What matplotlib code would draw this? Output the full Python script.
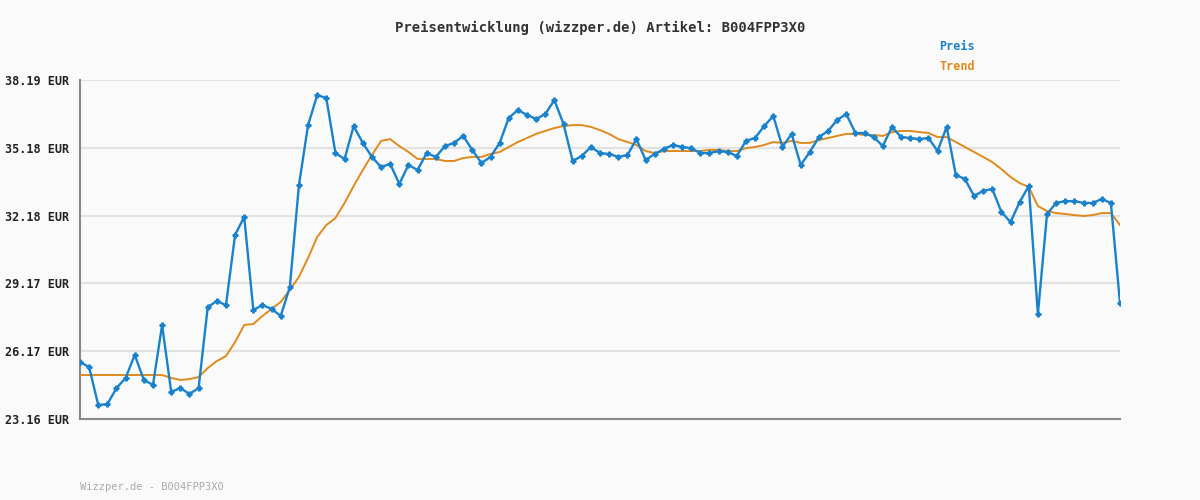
import matplotlib
matplotlib.use("Agg")
import matplotlib.pyplot as plt

preis = [25.69,25.46,23.78,23.82,24.53,24.98,26.00,24.89,24.67,27.33,24.36,24.53,24.27,24.53,28.12,28.39,28.21,31.32,32.12,27.99,
         28.21,28.04,27.73,29.01,33.53,36.19,37.52,37.39,34.95,34.69,36.15,35.40,34.78,34.33,34.47,33.58,34.42,34.20,34.95,34.78,
         35.26,35.40,35.71,35.09,34.51,34.78,35.40,36.51,36.86,36.64,36.46,36.68,37.30,36.24,34.60,34.82,35.22,34.95,34.91,34.78,
         34.86,35.57,34.64,34.91,35.13,35.31,35.22,35.17,34.95,34.95,35.04,35.00,34.82,35.49,35.62,36.15,36.59,
         35.22,35.80,34.42,35.00,35.66,35.93,36.42,36.68,35.84,35.84,35.66,35.26,36.11,35.66,35.62,35.57,35.62,35.04,36.11,33.98,
         33.80,33.05,33.27,33.36,32.34,31.89,32.78,33.49,27.81,32.25,32.74,32.82,32.82,32.74,32.74,32.91,32.74,28.30]
trend = [25.11]*10 + [24.98,24.89,24.93,25.02,25.42,25.73,25.95,26.57,27.33,27.37,27.73,28.04,28.35,28.88,29.46,30.30,31.23,31.76,32.07,32.74,
         33.49,34.20,34.86,35.49,35.57,35.26,35.00,34.69,34.69,34.69,
         34.60,34.60,34.73,34.78,34.78,34.91,35.00,35.22,35.44,35.62,35.80,35.93,36.06,36.15,36.19,36.19,36.11,35.97,35.80,35.57,
         35.44,35.31,35.04,34.95,35.04,35.04,35.04,35.04,35.04,35.09,35.09,35.04,35.04,35.17,35.22,35.31,35.44,
         35.40,35.49,35.40,35.40,35.53,35.62,35.71,35.80,35.80,35.75,35.75,35.71,35.88,35.93,35.93,35.88,35.84,35.66,35.66,35.44,
         35.22,35.00,34.78,34.55,34.24,33.89,33.62,33.45,32.60,32.38,32.29,32.25,32.20,32.16,32.20,32.29,32.29,31.76]
yticks = [23.16, 26.17, 29.17, 32.18, 35.18, 38.19]
ylabels = ["23.16 EUR", "26.17 EUR", "29.17 EUR", "32.18 EUR", "35.18 EUR", "38.19 EUR"]

BLUE = "#1a82cc"; ORANGE = "#e08a1e"; BG = "#fafafa"
mono = "DejaVu Sans Mono"

fig = plt.figure(figsize=(12, 5), dpi=100, facecolor=BG)
ax = fig.add_axes([80/1200, 1-419/500, 1040/1200, 339/500], facecolor=BG)
x = list(range(len(preis)))
ax.plot(x, trend, color=ORANGE, lw=1.4, zorder=3)
ax.plot(x, preis, color=BLUE, lw=1.7, marker="P", ms=3.5, zorder=4)
ax.set_xlim(0, len(preis)-1)
ax.set_ylim(23.16, 38.19)
ax.set_yticks(yticks)
ax.set_yticklabels(ylabels, fontfamily=mono, fontsize=8.5, fontweight="bold")
ax.set_xticks([])
ax.tick_params(axis="y", length=0, pad=8, colors="#222222")
ax.grid(axis="y", color="#e2e2e2", lw=1.5)
ax.set_axisbelow(True)
for s in ["top", "right"]:
    ax.spines[s].set_visible(False)
for s in ["left", "bottom"]:
    ax.spines[s].set_color("#888888"); ax.spines[s].set_linewidth(1.5)

fig.text(0.5, 1-28/500, "Preisentwicklung (wizzper.de) Artikel: B004FPP3X0", ha="center", va="center",
         fontfamily=mono, fontsize=10, fontweight="bold", color="#333333")
fig.text(939/1200, 1-47/500, "Preis", color=BLUE, fontfamily=mono, fontsize=8.5, fontweight="bold", va="center")
fig.text(939/1200, 1-67/500, "Trend", color=ORANGE, fontfamily=mono, fontsize=8.5, fontweight="bold", va="center")
fig.text(80/1200, 1-487/500, "Wizzper.de - B004FPP3X0", color="#aaaaaa", fontfamily=mono, fontsize=7.5, va="center")
fig.savefig("out.png", facecolor=BG)
